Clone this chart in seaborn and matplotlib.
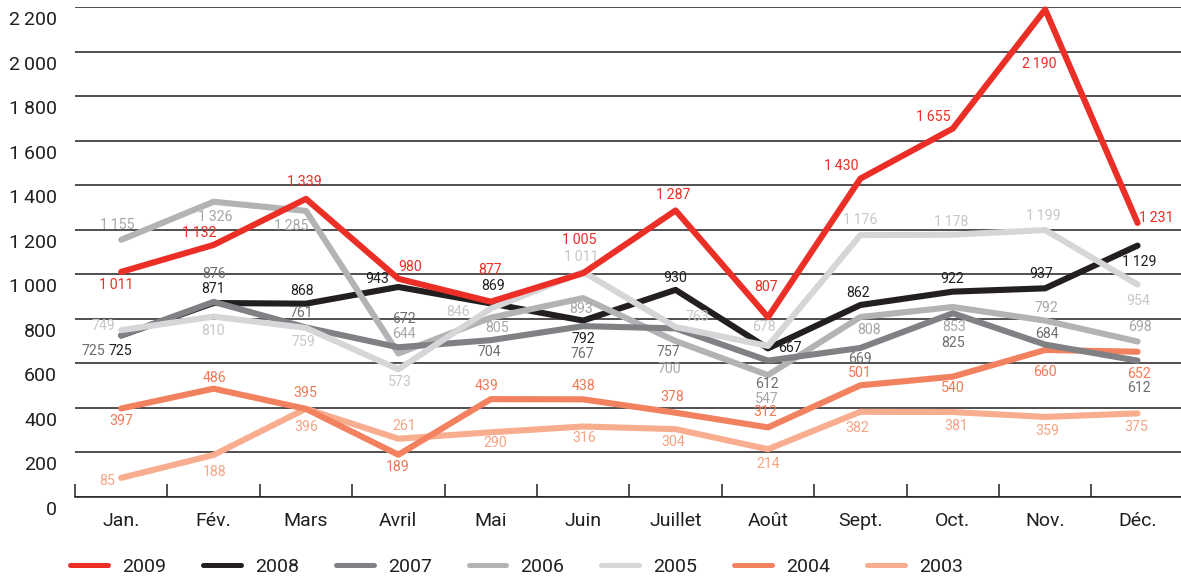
import numpy as np
import pandas as pd
import matplotlib
matplotlib.use("Agg")
import matplotlib.pyplot as plt
from matplotlib.transforms import ScaledTranslation
from matplotlib.lines import Line2D
import seaborn as sns

# ---------------- data ----------------
months = ["Jan.", "Fév.", "Mars", "Avril", "Mai", "Juin", "Juillet", "Août",
          "Sept.", "Oct.", "Nov.", "Déc."]
years = ["2009", "2008", "2007", "2006", "2005", "2004", "2003"]

v2009 = [1011, 1132, 1339, 980, 877, 1005, 1287, 807, 1430, 1655, 2190, 1231]
v2008 = [725, 871, 868, 943, 869, 792, 930, 667, 862, 922, 937, 1129]
v2007 = [725, 876, 761, 672, 704, 767, 757, 612, 669, 825, 684, 612]
v2006 = [1155, 1326, 1285, 644, 805, 893, 700, 547, 808, 853, 792, 698]
v2005 = [749, 810, 759, 573, 846, 1011, 763, 678, 1176, 1178, 1199, 954]
v2004 = [397, 486, 395, 189, 439, 438, 378, 312, 501, 540, 660, 652]
v2003 = [85, 188, 396, 261, 290, 316, 304, 214, 382, 381, 359, 375]

y_ticks = [0, 200, 400, 600, 800, 1000, 1200, 1400, 1600, 1800, 2000, 2200]

series = {"2009": v2009, "2008": v2008, "2007": v2007, "2006": v2006,
          "2005": v2005, "2004": v2004, "2003": v2003}

# ---------------- styles / layout ----------------
line_colors = {"2009": "#EC2F26", "2008": "#231F20", "2007": "#808184",
               "2006": "#B2B3B5", "2005": "#D5D6D7", "2004": "#F2815F",
               "2003": "#F8AD8F"}
text_colors = {"2009": "#EC2F26", "2008": "#231F20", "2007": "#6E6F72",
               "2006": "#A6A7AA", "2005": "#C6C7C9", "2004": "#F07A57",
               "2003": "#F6A484"}
draw_order = ["2003", "2004", "2008", "2006", "2007", "2005", "2009"]

# label offsets in pixels (dx, dy up)
offsets = {
    "2009": [(-5, -13), (-14, 12), (-2, 17), (12, 12), (-1, 32), (-4, 33),
             (-2, 15), (-2, 30), (-19, 13), (-19, 12), (-6, -54), (19, 5)],
    "2008": [(-1, -16), (-1, 14), (-4, 13), (-21, 8), (2, 17), (0, -18),
             (0, 12), (22, 0), (-2, 12), (-1, 13), (-4, 14), (2, -16)],
    "2007": [(-28, -16), (0, 28), (-5, 14), (6, 28), (-1, -12), (-1, -28),
             (-7, -24), (-1, -23), (0, -11), (0, -30), (2, 11), (1, -27)],
    "2006": [(-4, 15), (2, -15), (-15, -15), (6, 20), (6, -10), (-2, -11),
             (-6, -28), (-1, -24), (9, -13), (1, -20), (1, 13), (2, 14)],
    "2005": [(-18, 4), (-1, -14), (-3, -14), (1, -13), (-33, -3), (-2, 15),
             (22, 10), (-4, 19), (0, 15), (-2, 13), (-2, 14), (1, -16)],
    "2004": [(0, -13), (1, 11), (-1, 16), (-1, -12), (-4, 13), (0, 13),
             (-3, 16), (-3, 15), (-1, 12), (0, -11), (0, -22), (1, -22)],
    "2003": [(-14, -3), (1, -17), (0, -18), (6, 13), (4, -11), (1, -12),
             (-2, -13), (0, -15), (-3, -16), (3, -14), (2, -14), (-1, -14)],
}

W, H, DPI = 1181, 577, 100
INK = "#231F20"

sns.set_theme(style="white")
plt.rcParams["font.family"] = ["Roboto", "DejaVu Sans"]


def fmt(v):
    s = f"{v:,}"
    return s.replace(",", "\u2009")


rows = []
for y in years:
    for i, v in enumerate(series[y]):
        rows.append({"year": y, "month": i, "value": v})
df = pd.DataFrame(rows)

fig = plt.figure(figsize=(W / DPI, H / DPI), dpi=DPI)
ax_left, ax_right = 75, 1181
ax_bottom_px, ax_top_px = 496.8, 7.3
ax = fig.add_axes([ax_left / W, (H - ax_bottom_px) / H,
                   (ax_right - ax_left) / W, (ax_bottom_px - ax_top_px) / H])

for y in draw_order:
    sns.lineplot(data=df[df["year"] == y], x="month", y="value",
                 color=line_colors[y], linewidth=4.4, ax=ax, legend=False,
                 sort=False, clip_on=False, zorder=3)

for y in years:
    for i, v in enumerate(series[y]):
        dx, dy = offsets[y][i]
        ax.annotate(fmt(v), xy=(i, v), xytext=(dx, dy),
                    textcoords="offset pixels", ha="center", va="center",
                    fontsize=10.2, color=text_colors[y], zorder=5)

ax.set_xlim(-0.486, 11.47)
ax.set_ylim(0, 2200)
ax.set_xlabel("")
ax.set_ylabel("")

# y gridlines and labels
ax.set_yticks(y_ticks)
ax.set_yticklabels([fmt(t) if t >= 1000 else str(t) for t in y_ticks])
ax.yaxis.grid(True, color=INK, linewidth=1.1)
ax.set_axisbelow(True)
ax.tick_params(axis="y", length=0, pad=13, labelsize=14, labelcolor=INK)
off = ScaledTranslation(0, -11 / DPI, fig.dpi_scale_trans)
for lab in ax.yaxis.get_majorticklabels():
    lab.set_transform(lab.get_transform() + off)

# x axis: labels at months, ticks at boundaries
ax.set_xticks(range(len(months)))
ax.set_xticklabels(months)
ax.set_xticks(np.arange(-0.5, 11.0, 1.0), minor=True)
ax.tick_params(axis="x", which="major", length=0, pad=11, labelsize=14,
               labelcolor=INK)
ax.tick_params(axis="x", which="minor", direction="in", length=9.4,
               width=1.1, color=INK, bottom=True)

for s in ["top", "right", "left"]:
    ax.spines[s].set_visible(False)
ax.spines["bottom"].set_color(INK)
ax.spines["bottom"].set_linewidth(1.1)

# legend
handles = [Line2D([0], [0], color=line_colors[y], linewidth=3.6,
                  solid_capstyle="round") for y in years]
fig.legend(handles, years, ncol=7, loc="center left",
           bbox_to_anchor=(70 / W, 1 - 567 / H), frameon=False,
           fontsize=14, handlelength=1.95, handletextpad=0.72,
           columnspacing=1.9, borderpad=0, borderaxespad=0,
           labelcolor=INK)

fig.savefig("out.png", dpi=DPI)
